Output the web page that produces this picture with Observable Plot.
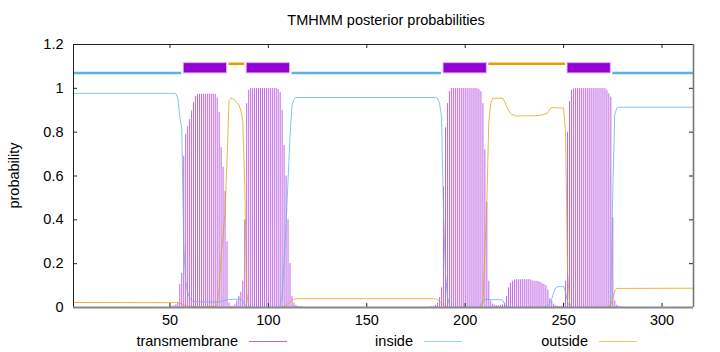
<!DOCTYPE html>
<html><head><meta charset="utf-8">
<script src="https://cdn.jsdelivr.net/npm/d3@7"></script>
<script src="https://cdn.jsdelivr.net/npm/@observablehq/plot@0.6"></script>
<style>body{margin:0;background:#fff} svg{display:block}</style>
</head><body><div id="chart"></div>
<script>
// ---------- data ----------
const title = "TMHMM posterior probabilities";
const yLabel = "probability";
const seqLength = 316;
const xTicks = [50, 100, 150, 200, 250, 300];
const yTicks = [0, 0.2, 0.4, 0.6, 0.8, 1, 1.2];
const seriesNames = ["transmembrane", "inside", "outside"];

// transmembrane posterior probability, one value per residue
const tmBlockAStart = 50;
const tmBlockA = [
  0.003, 0.005, 0.008, 0.012, 0.02, 0.104, 0.156, 0.69, 0.79, 0.825,
  0.857, 0.897, 0.935, 0.963, 0.972, 0.973, 0.973, 0.973, 0.973, 0.973,
  0.973, 0.973, 0.973, 0.972, 0.955, 0.89, 0.73, 0.64, 0.53, 0.30,
  0.02, 0.005, 0.005, 0.012, 0.03, 0.05, 0.07, 0.12, 0.40, 0.93,
  0.99, 0.999, 0.999, 0.999, 0.999, 0.999, 0.999, 0.999, 0.999, 0.999,
  0.999, 0.999, 0.999, 0.999, 0.999, 0.995, 0.98, 0.90, 0.74, 0.60,
  0.40, 0.20, 0.05, 0.02, 0.01, 0.005, 0.003, 0.002, 0.001
];
const tmBlockBStart = 182;
const tmBlockB = [
  0.002, 0.003, 0.005, 0.01, 0.02, 0.045, 0.09, 0.55, 0.82, 0.93,
  0.985, 0.999, 0.999, 0.999, 0.999, 0.999, 0.999, 0.999, 0.999, 0.999,
  0.999, 0.999, 0.999, 0.999, 0.999, 0.995, 0.985, 0.93, 0.72, 0.48,
  0.12, 0.03, 0.015, 0.01, 0.008, 0.008, 0.01, 0.012, 0.02, 0.05,
  0.09, 0.11, 0.12, 0.125, 0.127, 0.127, 0.127, 0.127, 0.127, 0.127,
  0.127, 0.127, 0.122, 0.12, 0.12, 0.118, 0.115, 0.11, 0.105, 0.10,
  0.08, 0.04, 0.03, 0.015, 0.008, 0.005, 0.004, 0.005, 0.02, 0.12,
  0.80, 0.94, 0.99, 0.997, 0.999, 0.999, 0.999, 0.999, 0.999, 0.999,
  0.999, 0.999, 0.999, 0.999, 0.999, 0.999, 0.999, 0.999, 0.999, 0.999,
  0.99, 0.975, 0.96, 0.41, 0.03, 0.01, 0.005, 0.002, 0.001
];

// inside probability (residue, value)
const insideRes = [1, 52, 53, 54, 55, 56, 57, 58, 59, 60, 61, 62, 70, 75, 77, 79, 80, 86, 87, 88, 89, 90,
  105, 106, 107, 108, 109, 110, 111, 112, 113, 114, 185, 186, 187, 188, 189, 190, 191, 192, 193,
  207, 208, 209, 210, 219, 220, 221, 222, 240, 241, 242, 243, 244, 245, 246, 247, 250, 251, 252, 253, 254,
  273, 274, 275, 276, 277, 278, 316];
const insideVal = [0.977, 0.977, 0.975, 0.955, 0.87, 0.82, 0.29, 0.12, 0.07, 0.045, 0.032, 0.027, 0.025, 0.025, 0.03, 0.035, 0.037, 0.038, 0.03, 0.015, 0.005, 0,
  0, 0.01, 0.06, 0.2, 0.38, 0.58, 0.78, 0.92, 0.95, 0.958, 0.958, 0.955, 0.93, 0.87, 0.42, 0.15, 0.05, 0.01, 0,
  0, 0.01, 0.03, 0.037, 0.035, 0.015, 0.005, 0, 0, 0.005, 0.01, 0.02, 0.04, 0.07, 0.09, 0.095, 0.095, 0.07, 0.025, 0.005, 0,
  0, 0.02, 0.54, 0.88, 0.91, 0.914, 0.914];

// outside probability (residue, value)
const outsideRes = [1, 54, 55, 56, 57, 58, 60, 73, 74, 75, 76, 77, 78, 79, 80, 81, 82, 83, 84, 85, 86, 87, 88, 89, 90, 91,
  106, 107, 108, 109, 110, 111, 112, 113, 114, 185, 186, 187, 188, 189, 190, 191,
  207, 208, 209, 210, 211, 212, 213, 214, 219, 220, 221, 222, 223, 224, 226, 236, 240, 242, 243, 244, 250, 251, 252, 253, 254, 255,
  273, 274, 275, 276, 277, 316];
const outsideVal = [0.023, 0.022, 0.02, 0.015, 0.01, 0.007, 0.005, 0.005, 0.013, 0.09, 0.24, 0.33, 0.44, 0.67, 0.945, 0.955, 0.952, 0.945, 0.935, 0.925, 0.9, 0.85, 0.56, 0.065, 0.01, 0,
  0, 0.002, 0.005, 0.01, 0.018, 0.025, 0.032, 0.038, 0.04, 0.04, 0.035, 0.025, 0.02, 0.01, 0.005, 0,
  0, 0.005, 0.02, 0.25, 0.48, 0.85, 0.93, 0.955, 0.955, 0.94, 0.92, 0.9, 0.887, 0.88, 0.874, 0.875, 0.88, 0.888, 0.905, 0.912, 0.91, 0.8, 0.17, 0.02, 0.005, 0,
  0, 0.01, 0.04, 0.075, 0.087, 0.088];

// predicted topology (top track)
const segType  = ["inside", "TMhelix", "outside", "TMhelix", "inside", "TMhelix", "outside", "TMhelix", "inside"];
const segStart = [1, 57, 80, 89, 112, 189, 212, 252, 275];
const segEnd   = [56, 79, 88, 111, 188, 211, 251, 274, 316];

// ---------- build tables ----------
const tmData = [
  ...tmBlockA.map((p, i) => ({r: tmBlockAStart + i, p})),
  ...tmBlockB.map((p, i) => ({r: tmBlockBStart + i, p}))
];
const insideData = insideRes.map((r, i) => ({r, p: insideVal[i]}));
const outsideData = outsideRes.map((r, i) => ({r, p: outsideVal[i]}));
const segs = segType.map((t, i) => ({t, start: segStart[i], end: segEnd[i]}));

const cTM = "#9400d3", cIn = "#56b4e9", cOut = "#e69f00";
const W = 720, H = 352, mL = 73, mR = 27, mT = 44, mB = 45;
const plotW = W - mL - mR, plotH = H - mT - mB;
const tick = 4;
const fmt = d3.format("~g");

const chart = Plot.plot({
  width: W, height: H,
  marginLeft: mL, marginRight: mR, marginTop: mT, marginBottom: mB,
  style: {fontFamily: "'Liberation Sans', Arial, sans-serif", fontSize: "14.5px", background: "#fff", color: "#000"},
  x: {domain: [1, seqLength], axis: null},
  y: {domain: [0, 1.2], axis: null},
  marks: [
    // impulses
    Plot.ruleX(tmData, {x: "r", y1: 0, y2: "p", stroke: cTM, strokeOpacity: 0.6, strokeWidth: 1}),
    Plot.line(insideData, {x: "r", y: "p", stroke: cIn, strokeWidth: 1, strokeOpacity: 0.75}),
    Plot.line(outsideData, {x: "r", y: "p", stroke: cOut, strokeWidth: 1, strokeOpacity: 0.75}),
    // top track
    Plot.ruleY(segs.filter(d => d.t === "inside"), {y: 1.07, x1: "start", x2: "end", stroke: cIn, strokeWidth: 2.6}),
    Plot.ruleY(segs.filter(d => d.t === "outside"), {y: 1.112, x1: "start", x2: "end", stroke: cOut, strokeWidth: 2.6}),
    Plot.rect(segs.filter(d => d.t === "TMhelix"), {x1: "start", x2: "end", y1: 1.068, y2: 1.115, fill: cTM, stroke: "#e4b0f4", strokeWidth: 1}),
    // ticks (inward, mirrored)
    Plot.ruleX(xTicks, {x: d => d, insetTop: plotH - tick, stroke: "#222"}),
    Plot.ruleX(xTicks, {x: d => d, insetBottom: plotH - tick, stroke: "#222"}),
    Plot.ruleY(yTicks, {y: d => d, insetRight: plotW - tick, stroke: "#222"}),
    Plot.ruleY(yTicks, {y: d => d, insetLeft: plotW - tick, stroke: "#222"}),
    // border
    Plot.ruleX([1], {stroke: "#222"}),
    Plot.ruleY([1.2], {stroke: "#222"}),
    Plot.ruleX([seqLength], {stroke: "#777", strokeWidth: 1.6}),
    Plot.ruleY([0], {stroke: "#888", strokeWidth: 2}),
    // axes labels
    Plot.axisX(xTicks, {anchor: "bottom", tickSize: 0, tickPadding: 7, label: null, tickFormat: fmt}),
    Plot.axisY(yTicks, {anchor: "left", tickSize: 0, tickPadding: 10, label: null, tickFormat: fmt})
  ]
});
document.getElementById("chart").appendChild(chart);

// title, y label and legend drawn into the same svg
const svg = d3.select(chart);
const font = "'Liberation Sans', Arial, sans-serif";
svg.append("text").attr("x", (mL + W - mR) / 2 + 3).attr("y", 25)
  .attr("text-anchor", "middle").attr("font-family", font).attr("font-size", 14.5).attr("fill", "#000").text(title);
svg.append("text").attr("transform", `translate(19,${mT + plotH / 2}) rotate(-90)`)
  .attr("text-anchor", "middle").attr("font-family", font).attr("font-size", 14.5).attr("fill", "#000").text(yLabel);

const legendColors = [cTM, cIn, cOut];
const legendTextEnd = [238, 413, 588];
const legendY = 341;
seriesNames.forEach((name, i) => {
  svg.append("text").attr("x", legendTextEnd[i]).attr("y", legendY + 5)
    .attr("text-anchor", "end").attr("font-family", font).attr("font-size", 14.5).attr("fill", "#000").text(name);
  svg.append("line").attr("x1", legendTextEnd[i] + 11).attr("x2", legendTextEnd[i] + 49)
    .attr("y1", legendY + 0.5).attr("y2", legendY + 0.5)
    .attr("stroke", legendColors[i]).attr("stroke-opacity", 0.6).attr("stroke-width", 1);
});
</script>
</body></html>
